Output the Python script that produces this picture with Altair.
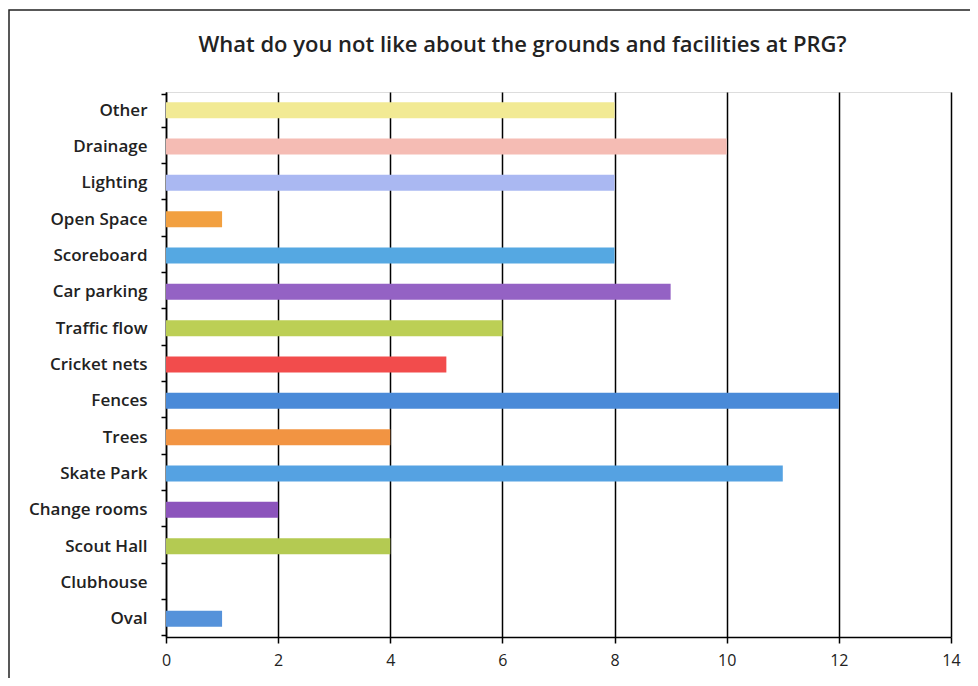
import altair as alt
import pandas as pd

categories = ["Other", "Drainage", "Lighting", "Open Space", "Scoreboard", "Car parking",
              "Traffic flow", "Cricket nets", "Fences", "Trees", "Skate Park",
              "Change rooms", "Scout Hall", "Clubhouse", "Oval"]
values = [8, 10, 8, 1, 8, 9, 6, 5, 12, 4, 11, 2, 4, 0, 1]
colors = ["#f2ea94", "#f5bcb4", "#aab8f2", "#f2a040", "#55a8e2", "#9462c4",
          "#bccf55", "#f24c4c", "#4a8ad8", "#f29442", "#55a2e2", "#8c54bc",
          "#b4ca52", "#cccccc", "#5592da"]
x_ticks = [0, 2, 4, 6, 8, 10, 12, 14]

df = pd.DataFrame({"category": categories, "value": values, "color": colors})

font = "Open Sans"

bars = alt.Chart(df).mark_bar(size=16).encode(
    y=alt.Y("category:N", sort=categories, title=None,
            axis=alt.Axis(tickBand="extent", domainColor="#000", domainWidth=1.5,
                          tickColor="#000", tickSize=5, tickWidth=1.5,
                          labelFont=font, labelFontSize=17, labelFontWeight=600,
                          labelColor="#222", labelPadding=14, grid=False)),
    x=alt.X("value:Q", title=None,
            scale=alt.Scale(domain=[0, 14], nice=False),
            axis=alt.Axis(values=x_ticks, domainColor="#000", domainWidth=1.5,
                          tickColor="#000", tickSize=6, tickWidth=1.5,
                          labelFont=font, labelFontSize=16, labelColor="#222",
                          labelFlush=False, labelPadding=9, grid=True,
                          gridColor="#000", gridWidth=1.5, gridOpacity=1)),
    color=alt.Color("color:N", scale=None, legend=None),
)

frame = alt.Chart(pd.DataFrame({"f": [0]})).mark_rect(
    fill=None, stroke="#222", strokeWidth=1.5, clip=False
).encode(
    x=alt.value(-157), x2=alt.value(830), y=alt.value(-82), y2=alt.value(640)
)

chart = alt.layer(frame, bars).properties(
    width=785,
    height=545,
    title=alt.Title("What do you not like about the grounds and facilities at PRG?",
                    font=font, fontSize=22, fontWeight=600, color="#222",
                    anchor="middle", frame="group", dx=-36, offset=-48),
    autosize=alt.AutoSizeParams(type="none"),
    padding={"left": 158, "top": 84, "right": 19, "bottom": 41},
).configure_view(stroke=None).configure(background="white")

chart.save("out.html", embed_options={"renderer": "svg", "actions": False})
